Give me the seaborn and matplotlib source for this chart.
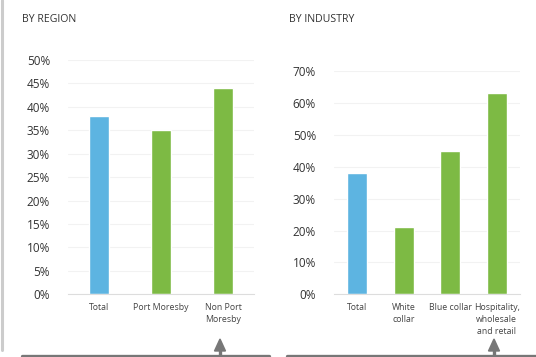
import matplotlib
matplotlib.use("Agg")
import matplotlib.pyplot as plt
import seaborn as sns
from matplotlib.lines import Line2D
from matplotlib.patches import Polygon
from matplotlib.ticker import PercentFormatter

# data
region_labels = ["Total", "Port Moresby", "Non Port\nMoresby"]
region_values = [38, 35, 44]
industry_labels = ["Total", "White\ncollar", "Blue collar", "Hospitality,\nwholesale\nand retail"]
industry_values = [38, 21, 45, 63]

blue = "#5db4e1"
green = "#7dba44"

sns.set_style("white")
plt.rcParams['font.family'] = ['Open Sans', 'DejaVu Sans']

fig = plt.figure(figsize=(5.36, 3.57), dpi=100)
W, H = 536, 357


def panel(rect, labels, values, ymax, step, width, title, title_x):
    ax = fig.add_axes(rect)
    pal = {lab: (blue if i == 0 else green) for i, lab in enumerate(labels)}
    sns.barplot(x=labels, y=values, hue=labels, palette=pal, width=width,
                legend=False, saturation=1, ax=ax)
    ax.set_ylim(0, ymax)
    ax.set_xlim(-0.5, len(labels) - 0.5)
    ax.set_yticks(range(0, ymax + 1, step))
    ax.yaxis.set_major_formatter(PercentFormatter(decimals=0))
    ax.grid(axis="y", color="#f2f2f2", linewidth=0.8)
    ax.set_axisbelow(True)
    sns.despine(ax=ax, left=True)
    ax.spines["bottom"].set_color("#dddddd")
    ax.tick_params(axis="y", length=0, pad=13, labelsize=8.5, labelcolor="#333333")
    ax.tick_params(axis="x", length=0, pad=6, labelsize=6.3, labelcolor="#444444")
    for t in ax.get_yticklabels():
        t.set_horizontalalignment("right")
    for t in ax.get_xticklabels():
        t.set_linespacing(1.45)
    fig.text(title_x / W, 1 - 20 / H, title, fontsize=7.6, color="#333333", va="center")
    return ax


panel([68 / W, 62.7 / H, 186 / W, 234.3 / H], region_labels, region_values,
      50, 5, 0.31, "BY REGION", 22)
panel([334 / W, 62.7 / H, 186 / W, 223.3 / H], industry_labels, industry_values,
      70, 10, 0.43, "BY INDUSTRY", 289)

# frame decorations: left edge strip, bottom bars with arrows
fig.add_artist(Line2D([1.5 / W, 1.5 / W], [1 - 350 / H, 1], color="#cccccc", lw=2.2,
                      transform=fig.transFigure))
for x0, x1, ax_x in [(22, 269, 220), (287, 536, 494)]:
    fig.add_artist(Line2D([x0 / W, x1 / W], [1 - 355.5 / H, 1 - 355.5 / H],
                          color="#777777", lw=2.4, transform=fig.transFigure))
    fig.add_artist(Polygon([[(ax_x - 5.5) / W, 1 - 351 / H], [(ax_x + 5.5) / W, 1 - 351 / H],
                            [ax_x / W, 1 - 339 / H]], closed=True, color="#777777",
                           transform=fig.transFigure))
    fig.add_artist(Line2D([ax_x / W, ax_x / W], [1 - 355 / H, 1 - 350 / H],
                          color="#777777", lw=2.4, transform=fig.transFigure))

fig.savefig("out.png", dpi=100)
